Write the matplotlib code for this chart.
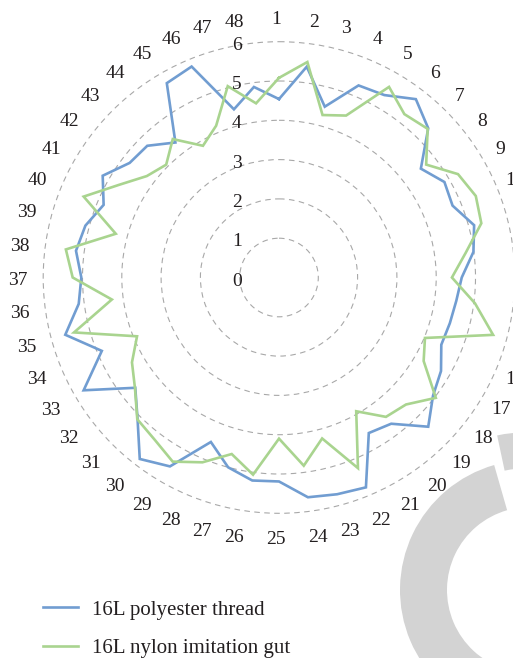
import numpy as np
import matplotlib
matplotlib.use('Agg')
import matplotlib.pyplot as plt
from matplotlib.patches import Wedge
from matplotlib import transforms

categories = [str(i) for i in range(1, 49)]
series_names = ['16L polyester thread', '16L nylon imitation gut']
polyester = [4.54, 5.41, 4.50, 5.29, 5.36, 5.72, 5.37, 4.55, 4.86, 4.78, 5.14, 4.99,
             4.65, 4.55, 4.50, 4.47, 4.76, 4.94, 5.37, 4.69, 4.57, 5.78, 5.71, 5.64,
             5.19, 5.21, 5.00, 4.53, 5.55, 5.82, 5.09, 4.61, 5.74, 4.88, 5.63, 5.14,
             5.03, 5.21, 5.10, 4.83, 5.18, 4.79, 4.74, 4.33, 5.71, 5.81, 4.43, 4.89]
nylon = [5.08, 5.53, 4.28, 4.46, 5.60, 5.24, 5.35, 4.72, 5.26, 5.42, 5.33, 4.79,
         4.40, 5.03, 5.64, 4.02, 4.25, 5.03, 4.57, 4.47, 3.93, 5.25, 4.24, 4.83,
         4.10, 5.06, 4.65, 5.09, 5.41, 5.20, 5.10, 4.62, 4.32, 3.91, 5.40, 4.29,
         5.25, 5.47, 4.30, 5.38, 4.71, 4.24, 4.06, 4.44, 3.87, 4.18, 5.04, 4.47]
r_ticks = [0, 1, 2, 3, 4, 5, 6]

W, H = 513, 658
FONT = ['Liberation Serif', 'DejaVu Serif']
TXT = '#231f20'
BLUE = '#719dd1'
GREEN = '#a9d48f'

fig = plt.figure(figsize=(W / 100, H / 100), dpi=100)
fig.patch.set_facecolor('white')

# overlay axes in pixel coordinates (watermark + category labels)
ov = fig.add_axes([0, 0, 1, 1], zorder=-1)
ov.set_xlim(0, W)
ov.set_ylim(H, 0)
ov.axis('off')
ov.add_patch(Wedge((530, 590), 130, 60, 254, width=47, facecolor='#d3d3d3', edgecolor='none'))
ov.add_patch(Wedge((530, 590), 158, 258, 300, width=36, facecolor='#d3d3d3', edgecolor='none'))

# polar axes
cx, cy = 279, 277.5
unit = 39.3
R = 6 * unit
ax = fig.add_axes([(cx - R) / W, (H - cy - R) / H, 2 * R / W, 2 * R / H], projection='polar')
ax.patch.set_alpha(0)
ax.set_theta_zero_location('N')
ax.set_theta_direction(-1)
ax.set_ylim(0, 6)

n = len(categories)
theta = np.deg2rad(np.arange(n) * 360.0 / n)
tc = np.append(theta, theta[0])
l1, = ax.plot(tc, np.append(polyester, polyester[0]), color=BLUE, lw=1.9, solid_joinstyle='miter')
l2, = ax.plot(tc, np.append(nylon, nylon[0]), color=GREEN, lw=1.9, solid_joinstyle='miter')

ax.set_xticks([])
ax.set_yticks(r_ticks[1:])
ax.set_yticklabels([])
ax.xaxis.grid(False)
ax.yaxis.grid(True, color='#a8a8a8', linestyle=(0, (5, 4)), linewidth=0.8)
for gl in ax.yaxis.get_gridlines():
    gl.set_clip_on(False)
ax.spines['polar'].set_visible(False)

# radial labels
tr = transforms.offset_copy(ax.transData, fig=fig, x=-42, y=-3.5, units='dots')
for r in r_ticks:
    ax.text(0, r, str(r), transform=tr, ha='center', va='center', fontsize=14,
            family=FONT, color=TXT)

# category labels
for i, lab in enumerate(categories):
    a = np.deg2rad(i * 360.0 / n)
    s, c = np.sin(a), np.cos(a)
    sg = 0 if abs(s) < 1e-6 else np.sign(s)
    x = 276 + 258 * s + 4.85 * len(lab) * sg * (1 - abs(s))
    y = 280 - 260 * c
    ov.text(x, y, lab, ha='center', va='center', fontsize=14, family=FONT, color=TXT)

fs = 15
fpx = fs * 100 / 72
leg = fig.legend([l1, l2], series_names, loc='upper left',
                 bbox_to_anchor=(43.3 / W, 1 - 600.2 / H), frameon=False,
                 prop={'family': FONT, 'size': fs}, handlelength=35 / fpx,
                 handletextpad=13.4 / fpx, labelspacing=0.9, borderpad=0,
                 borderaxespad=0)
for t in leg.get_texts():
    t.set_color(TXT)

fig.savefig('out.png', dpi=100)
